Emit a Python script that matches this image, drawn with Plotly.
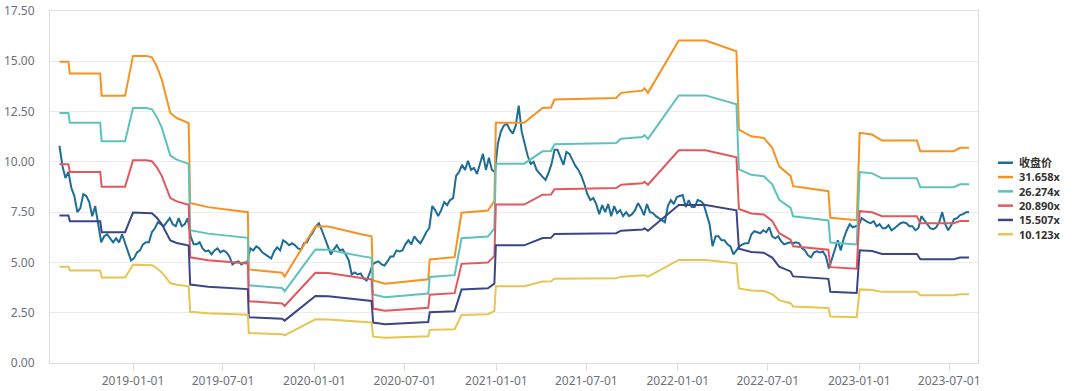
import pandas as pd
import plotly.graph_objects as go

# ---------------- data ----------------
price_start = "2018-08-06"
price_step_days = 6
close_price = [
    10.8, 9.8, 9.2, 9.5, 8.7, 8.3, 7.5, 7.7, 8.4, 8.3,
    8.0, 7.3, 7.8, 7.0, 6.0, 6.3, 6.4, 6.2, 6.0, 6.2,
    6.0, 6.4, 5.95, 5.5, 5.1, 5.2, 5.5, 5.6, 5.9, 6.0,
    6.0, 6.5, 6.7, 7.0, 6.9, 6.8, 7.0, 7.2, 6.9, 6.8,
    7.2, 6.8, 6.9, 7.2, 6.3, 5.9, 5.9, 6.0, 5.7, 5.55,
    5.6, 5.4, 5.6, 5.7, 5.5, 5.6, 5.5, 5.3, 4.9, 5.0,
    5.05, 4.9, 5.0, 5.0, 5.7, 5.6, 5.8, 5.7, 5.5, 5.4,
    5.3, 5.2, 5.55, 5.75, 5.6, 6.1, 6.0, 5.85, 5.95, 5.85,
    5.7, 5.65, 5.95, 6.0, 6.3, 6.5, 6.8, 6.95, 6.6, 6.2,
    5.7, 5.4, 5.65, 5.85, 5.6, 5.65, 5.4, 5.1, 4.4, 4.5,
    4.4, 4.45, 4.2, 4.1, 4.45, 4.9, 5.0, 5.05, 4.9, 4.85,
    5.05, 5.3, 5.3, 5.6, 5.55, 5.6, 5.9, 6.1, 5.9, 6.3,
    6.1, 5.95, 6.2, 6.5, 6.7, 7.8, 7.6, 7.3, 7.6, 8.0,
    7.85, 8.1, 8.2, 9.3, 9.5, 9.85, 9.6, 10.05, 9.6, 9.7,
    9.4, 9.9, 10.4, 9.6, 10.2, 9.6, 9.5, 10.9, 11.5, 11.8,
    11.9, 11.6, 11.4, 11.8, 12.8, 11.5, 10.9, 10.3, 9.9, 10.0,
    9.6, 9.4, 9.25, 9.1, 9.45, 9.9, 10.6, 10.6, 10.2, 9.85,
    10.5, 10.4, 10.1, 9.8, 9.6, 9.3, 8.9, 8.4, 8.1, 8.2,
    7.9, 7.4, 7.85, 7.5, 7.9, 7.3, 7.8, 7.45, 7.6, 7.3,
    7.5, 7.3, 7.4, 7.6, 7.95, 7.7, 7.35, 7.9, 7.5, 7.45,
    7.3, 7.2, 7.1, 7.0, 7.8, 8.1, 7.9, 8.25, 8.3, 8.35,
    7.75, 8.1, 7.75, 7.75, 8.1, 8.05, 7.9, 7.4, 6.9, 5.8,
    6.3, 6.3, 6.1, 6.1, 5.9, 5.8, 5.4, 5.6, 5.8, 5.9,
    5.95, 5.95, 6.4, 6.55, 6.5, 6.45, 6.6, 6.5, 6.75, 6.3,
    6.2, 6.3, 6.05, 5.9, 5.95, 6.0, 5.95, 6.0, 5.95, 5.7,
    5.6, 5.35, 5.25, 5.5, 5.55, 5.5, 5.55, 5.3, 4.7, 5.2,
    5.7, 6.1, 5.6, 6.2, 6.6, 6.9, 6.75, 6.8, 6.85, 7.2,
    7.1, 7.0, 6.95, 7.05, 6.8, 6.9, 6.7, 6.7, 6.85, 6.6,
    6.7, 6.85, 6.95, 7.0, 6.95, 6.8, 6.8, 6.6, 6.7, 7.3,
    7.1, 6.85, 6.7, 6.65, 6.75, 7.0, 7.5, 6.9, 6.6, 6.85,
    7.15, 7.2, 7.35, 7.4, 7.5, 7.5,
]

eps_dates = [
    "2018-08-06", "2018-08-24", "2018-08-27", "2018-10-27", "2018-10-30",
    "2018-12-16", "2019-01-01", "2019-01-28", "2019-02-08", "2019-02-18",
    "2019-02-28", "2019-03-17", "2019-03-30", "2019-04-23", "2019-04-26",
    "2019-06-01", "2019-08-20", "2019-08-22", "2019-10-28", "2019-11-02",
    "2020-01-03", "2020-01-29", "2020-04-04", "2020-04-25", "2020-04-28",
    "2020-05-22", "2020-08-17", "2020-08-20", "2020-10-09", "2020-10-23",
    "2020-12-15", "2020-12-28", "2020-12-31", "2021-02-26", "2021-04-04",
    "2021-04-21", "2021-04-28", "2021-08-30", "2021-09-09", "2021-10-22",
    "2021-10-26", "2021-11-02", "2022-01-03", "2022-02-26", "2022-04-29",
    "2022-05-04", "2022-05-29", "2022-06-23", "2022-07-10", "2022-07-24",
    "2022-08-16", "2022-08-21", "2022-10-31", "2022-11-04", "2022-12-27",
    "2023-01-02", "2023-01-27", "2023-02-16", "2023-04-27", "2023-05-04",
    "2023-07-10", "2023-07-23", "2023-08-10",
]
eps_values = [
    0.4729, 0.4729, 0.4545, 0.4545, 0.4195,
    0.4195, 0.4823, 0.4823, 0.4801, 0.4656,
    0.4448, 0.3926, 0.3847, 0.3768, 0.2514,
    0.2448, 0.2369, 0.1469, 0.1418, 0.1358,
    0.2148, 0.2142, 0.2022, 0.1990, 0.1295,
    0.1245, 0.1314, 0.1627, 0.1662, 0.2360,
    0.2394, 0.2543, 0.3772, 0.3772, 0.4005,
    0.4012, 0.4138, 0.4163, 0.4242, 0.4277,
    0.4312, 0.4242, 0.5064, 0.5064, 0.4896,
    0.3664, 0.3560, 0.3535, 0.3380, 0.3089,
    0.2935, 0.2777, 0.2698, 0.2281, 0.2243,
    0.3614, 0.3588, 0.3494, 0.3494, 0.3326,
    0.3326, 0.3380, 0.3380,
]

pe_multiples = [31.658, 26.274, 20.890, 15.507, 10.123]
series_names = ["收盘价", "31.658x", "26.274x", "20.890x", "15.507x", "10.123x"]
series_colors = ["#1d6d98", "#f7921f", "#5dc2bc", "#e2585f", "#3b4687", "#e6c553"]

y_ticks = [0, 2.5, 5, 7.5, 10, 12.5, 15, 17.5]
x_ticks = ["2019-01-01", "2019-07-01", "2020-01-01", "2020-07-01", "2021-01-01",
           "2021-07-01", "2022-01-01", "2022-07-01", "2023-01-01", "2023-07-01"]

# ---------------- figure ----------------
price_dates = pd.date_range(price_start, periods=len(close_price), freq=f"{price_step_days}D")
eps_x = pd.to_datetime(eps_dates)

fig = go.Figure()
fig.add_trace(go.Scatter(x=price_dates, y=close_price, mode="lines",
                         name=series_names[0], showlegend=False,
                         line=dict(color=series_colors[0], width=2)))
for m, nm, col in zip(pe_multiples, series_names[1:], series_colors[1:]):
    fig.add_trace(go.Scatter(x=eps_x, y=[e * m for e in eps_values], mode="lines",
                             name=nm, showlegend=False,
                             line=dict(color=col, width=2)))

W, H = 1080, 391
ml, mr, mt, mb = 50, 102, 11, 28
pw, ph = W - ml - mr, H - mt - mb


def px_to_paper(x, y):
    return (x - ml) / pw, (H - mb - y) / ph


# compact legend on the right: one multi-line text block + short colour lines
legend_font = 11
row_h = legend_font * 1.3
legend_center_y = 198.5
n = len(series_names)
first_row_y = legend_center_y - row_h * (n - 1) / 2
shapes = []
for k, col in enumerate(series_colors):
    yc = first_row_y + row_h * k
    x0, yy = px_to_paper(998, yc)
    x1, _ = px_to_paper(1013, yc)
    shapes.append(dict(type="line", xref="paper", yref="paper", x0=x0, x1=x1, y0=yy, y1=yy,
                       line=dict(color=col, width=2.5)))
xt, yt = px_to_paper(1018, legend_center_y)
legend_text = "<br>".join(f"<b>{nm}</b>" for nm in series_names)
annotations = [dict(xref="paper", yref="paper", x=xt, y=yt, text=legend_text,
                    showarrow=False, xanchor="left", yanchor="middle", align="left",
                    borderpad=0,
                    font=dict(size=legend_font, color="#333333",
                              family="Noto Sans, Noto Sans CJK SC, sans-serif"))]

axis_col = "#dcdde2"
fig.update_layout(
    width=W, height=H,
    margin=dict(l=ml, r=mr, t=mt, b=mb, autoexpand=False),
    paper_bgcolor="white", plot_bgcolor="white",
    font=dict(family="Noto Sans, Noto Sans CJK SC, sans-serif", size=12, color="#6e7079"),
    showlegend=False,
    shapes=shapes, annotations=annotations,
    xaxis=dict(type="date", range=["2018-07-18", "2023-08-28"], automargin=False,
               tickvals=x_ticks, ticktext=x_ticks,
               showgrid=False, zeroline=False,
               showline=True, linecolor=axis_col, linewidth=1, mirror=True,
               ticks="outside", ticklen=7, tickcolor=axis_col,
               tickfont=dict(size=12, color="#6e7079")),
    yaxis=dict(range=[0, 17.5], tickvals=y_ticks, automargin=False,
               ticktext=[f"{v:.2f}" for v in y_ticks],
               showgrid=True, gridcolor="#ececef", gridwidth=1, zeroline=False,
               showline=True, linecolor=axis_col, linewidth=1, mirror=True,
               ticks="", ticklabelstandoff=12,
               tickfont=dict(size=12, color="#6e7079")),
)

# remove the default page margin so the figure sits at the window's top-left corner
fig.write_html("out.html",
               config={"displayModeBar": False},
               post_script="document.body.style.margin='0px';document.body.style.overflow='hidden';")
